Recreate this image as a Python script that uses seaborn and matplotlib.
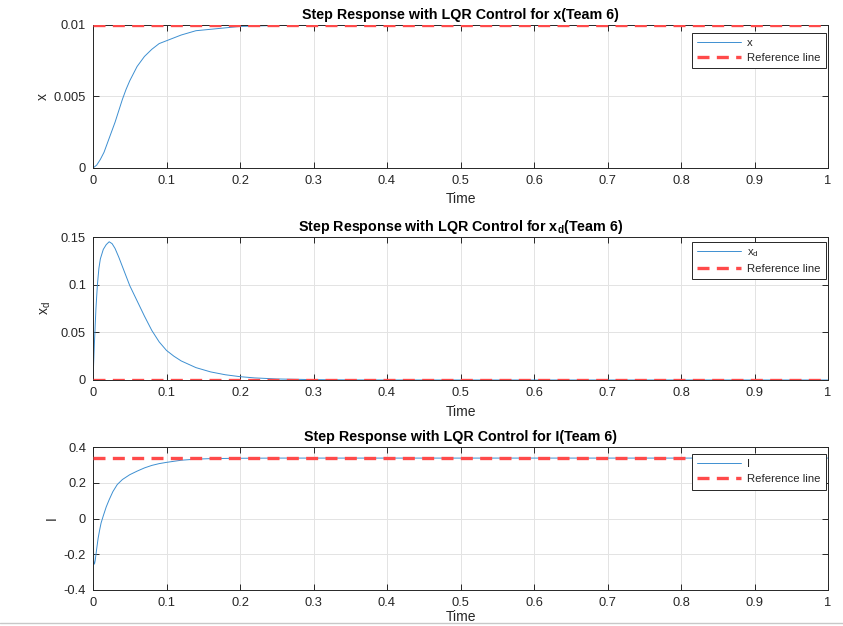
import numpy as np
import pandas as pd
import matplotlib
matplotlib.use("Agg")
import matplotlib.pyplot as plt
from matplotlib.lines import Line2D
import seaborn as sns

# ---- data ----
t_x = [0, 0.005, 0.01, 0.015, 0.02, 0.025, 0.03, 0.035, 0.04, 0.045, 0.05, 0.06, 0.07,
       0.08, 0.09, 0.1, 0.12, 0.14, 0.16, 0.18, 0.2, 0.25, 0.3, 0.4, 0.5, 0.6, 0.7, 0.8, 0.9, 1.0]
x_vals = [0, 0.0002, 0.0006, 0.0011, 0.0018, 0.0025, 0.0032, 0.0040, 0.0048, 0.0055, 0.0061,
          0.0071, 0.0078, 0.0083, 0.0087, 0.0089, 0.0093, 0.0096, 0.0097, 0.0098, 0.0099,
          0.00997, 0.01, 0.01, 0.01, 0.01, 0.01, 0.01, 0.01, 0.01]
x_ref = 0.01

t_xd = [0, 0.002, 0.004, 0.006, 0.008, 0.01, 0.014, 0.018, 0.022, 0.026, 0.03, 0.035, 0.04,
        0.045, 0.05, 0.055, 0.06, 0.07, 0.08, 0.09, 0.1, 0.11, 0.12, 0.14, 0.16, 0.18, 0.2,
        0.22, 0.25, 0.3, 0.35, 0.4, 0.5, 0.6, 0.7, 0.8, 0.9, 1.0]
xd_vals = [0, 0.04, 0.075, 0.1, 0.117, 0.127, 0.137, 0.142, 0.145, 0.143, 0.138, 0.129, 0.119,
           0.109, 0.099, 0.091, 0.083, 0.067, 0.052, 0.040, 0.031, 0.025, 0.020, 0.013, 0.0085,
           0.0055, 0.0035, 0.0022, 0.0011, 0.0004, 0.0001, 0, 0, 0, 0, 0, 0, 0]
xd_ref = 0.0

t_i = [0, 0.001, 0.002, 0.003, 0.005, 0.007, 0.009, 0.011, 0.014, 0.018, 0.022, 0.027, 0.033,
       0.04, 0.05, 0.06, 0.07, 0.08, 0.09, 0.1, 0.12, 0.14, 0.16, 0.2, 0.25, 0.3, 0.4, 0.5,
       0.6, 0.7, 0.8, 0.9, 1.0]
i_vals = [0, -0.24, -0.255, -0.235, -0.17, -0.11, -0.065, -0.025, 0.015, 0.065, 0.105, 0.15,
          0.19, 0.218, 0.245, 0.265, 0.283, 0.297, 0.307, 0.314, 0.326, 0.332, 0.335, 0.337,
          0.338, 0.338, 0.338, 0.338, 0.338, 0.338, 0.338, 0.338, 0.338]
i_ref = 0.338

titles = ["Step Response with LQR Control for x(Team 6)",
          "Step Response with LQR Control for x$_\\mathregular{d}$(Team 6)",
          "Step Response with LQR Control for I(Team 6)"]
ylabels = ["x", "x$_\\mathregular{d}$", "I"]
legend_labels = ["x", "x$_\\mathregular{d}$", "I"]
xticks = [0, 0.1, 0.2, 0.3, 0.4, 0.5, 0.6, 0.7, 0.8, 0.9, 1.0]
xtick_labels = ["0", "0.1", "0.2", "0.3", "0.4", "0.5", "0.6", "0.7", "0.8", "0.9", "1"]
yticks = [[0, 0.005, 0.01], [0, 0.05, 0.1, 0.15], [-0.4, -0.2, 0, 0.2, 0.4]]
ytick_labels = [["0", "0.005", "0.01"], ["0", "0.05", "0.1", "0.15"],
                ["-0.4", "-0.2", "0", "0.2", "0.4"]]
ylims = [(0, 0.01), (0, 0.15), (-0.4, 0.4)]

series = [(t_x, x_vals, x_ref), (t_xd, xd_vals, xd_ref), (t_i, i_vals, i_ref)]

sns.set_theme(style="ticks")
plt.rcParams["font.family"] = ["Liberation Sans", "DejaVu Sans"]
plt.rcParams["mathtext.fontset"] = "custom"
plt.rcParams["mathtext.rm"] = "Liberation Sans"
plt.rcParams["mathtext.it"] = "Liberation Sans"

fig = plt.figure(figsize=(8.43, 6.26), dpi=100)
fig.patch.set_facecolor("white")

W, H = 843, 626
boxes = [(93, 25, 828, 168), (93, 237, 828, 380), (93, 447, 828, 590)]
ylabel_x = [-0.0585, -0.055, -0.046]
legend_y = [0.944, 0.965, 0.95]
xlabel_pad = [4, 4, 0.5]

blue = "#3d8fd1"
red = "#ff4a4a"

for k, (box, (t, v, ref)) in enumerate(zip(boxes, series)):
    x0, y0, x1, y1 = box
    ax = fig.add_axes([x0 / W, 1 - y1 / H, (x1 - x0) / W, (y1 - y0) / H])
    df = pd.DataFrame({"Time": t, "val": v})
    sns.lineplot(data=df, x="Time", y="val", ax=ax, color=blue, linewidth=0.7,
                 label=legend_labels[k], estimator=None)
    dfr = pd.DataFrame({"Time": [0, 1.0], "val": [ref, ref]})
    sns.lineplot(data=dfr, x="Time", y="val", ax=ax, color=red, linewidth=2.4,
                 label="Reference line", estimator=None, zorder=3)
    ax.lines[-1].set_dashes((3.6, 2.2))
    ax.set_xlim(0, 1)
    ax.set_ylim(*ylims[k])
    ax.set_xticks(xticks)
    ax.set_xticklabels(xtick_labels)
    ax.set_yticks(yticks[k])
    ax.set_yticklabels(ytick_labels[k])
    ax.grid(True, color="#e3e3e3", linewidth=0.7)
    ax.set_axisbelow(True)
    for s in ax.spines.values():
        s.set_visible(True)
        s.set_color("#262626")
        s.set_linewidth(0.7)
    ax.tick_params(direction="in", top=True, right=True, length=4, width=0.7,
                   labelsize=9.3, colors="#262626", pad=5)
    ax.set_xlabel("Time", fontsize=10, color="#262626", labelpad=xlabel_pad[k])
    ax.set_ylabel(ylabels[k], fontsize=10, color="#262626")
    ax.yaxis.set_label_coords(ylabel_x[k], 0.5)
    ax.set_title(titles[k], fontsize=10.3, fontweight="bold", color="black", pad=4)
    leg = ax.legend(loc="upper right", bbox_to_anchor=(0.997, legend_y[k]), fontsize=8.2,
                    frameon=True, fancybox=False, handlelength=3.9, borderpad=0.45,
                    labelspacing=0.45, handletextpad=0.5, borderaxespad=0)
    leg.get_frame().set_edgecolor("#262626")
    leg.get_frame().set_linewidth(0.7)
    leg.get_frame().set_alpha(1)

fig.add_artist(Line2D([0, 1], [1 - 623 / H, 1 - 623 / H], color="#c8c8c8", linewidth=1,
                      transform=fig.transFigure))

fig.savefig("out.png", dpi=100, facecolor="white")
